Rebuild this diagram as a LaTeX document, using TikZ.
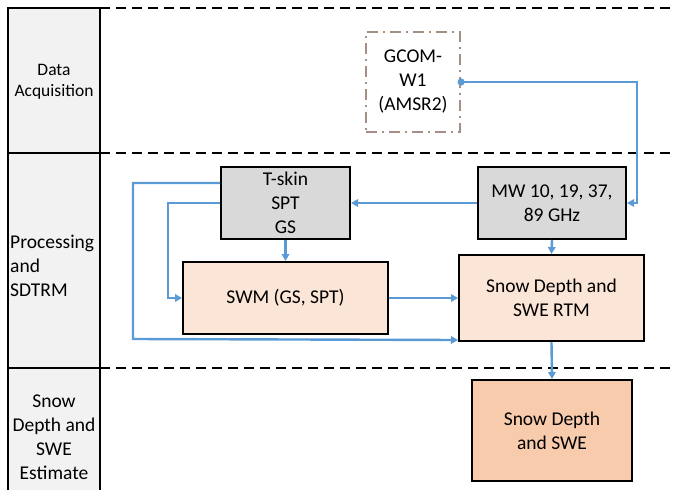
\documentclass[tikz,border=0pt]{standalone}
\usepackage{fontspec}
\setmainfont{Carlito}
\usetikzlibrary{arrows.meta}
\definecolor{lnblue}{HTML}{5B9BD5}
\definecolor{boxgray}{HTML}{D9D9D9}
\definecolor{peach}{HTML}{FBE5D6}
\definecolor{peachdark}{HTML}{F8CBAD}
\definecolor{colgray}{HTML}{F2F2F2}
\definecolor{gcomc}{HTML}{A38F86}
\begin{document}
\begin{tikzpicture}[x=1pt,y=-1pt,
  box/.style={draw=black,line width=2pt,inner sep=0pt,align=center,
    font=\fontsize{19.5}{24}\selectfont},
  graybox/.style={box,fill=boxgray},
  peachbox/.style={box,fill=peach},
  arr/.style={draw=lnblue,line width=2.4pt,-{Triangle[length=7pt,width=7.5pt]}},
  sep/.style={draw=black,line width=2pt,dash pattern=on 10pt off 6pt},
  lab/.style={align=center,inner sep=0pt,font=\fontsize{19.5}{24}\selectfont}]
\useasboundingbox (0,0) rectangle (673,490);
% left column
\fill[colgray] (8,8) rectangle (100,492);
\draw[line width=2pt] (8,492) -- (8,8) -- (100,8) -- (100,492);
\draw[line width=2pt] (8,153) -- (100,153);
\draw[line width=2pt] (8,368) -- (100,368);
% separators
\draw[sep] (100,8) -- (673,8);
\draw[sep] (100,153) -- (673,153);
\draw[sep] (100,368) -- (673,368);
% labels
\node[lab,font=\fontsize{17.5}{20.5}\selectfont] (l1) at (54,82) {Data\\Acquisition};
\node[lab,align=left,anchor=west] (l2) at (10,266) {Processing\\and\\SDTRM};
\node[lab] (l3) at (54,437) {Snow\\Depth and\\SWE\\Estimate};
% boxes
\node[box,draw=gcomc,line width=2.2pt,dash pattern=on 11pt off 5pt on 2pt off 5pt,
  minimum width=94pt,minimum height=100pt] (gcom) at (413,82) {GCOM-\\W1\\(AMSR2)};
\node[graybox,minimum width=129pt,minimum height=72pt] (tskin) at (285.5,203) {T-skin\\SPT\\GS};
\node[graybox,minimum width=148pt,minimum height=72pt] (mw) at (552,203) {MW 10, 19, 37,\\89 GHz};
\node[peachbox,minimum width=205pt,minimum height=72pt] (swm) at (285.5,298) {SWM (GS, SPT)};
\node[peachbox,minimum width=185pt,minimum height=86pt] (rtm) at (551.5,298) {Snow Depth and\\SWE RTM};
\node[box,fill=peachdark,minimum width=160pt,minimum height=101pt] (out) at (552,430.5) {Snow Depth\\and SWE};
% connectors
\draw[arr] (gcom.east) -| (637,203) -- (mw.east);
\fill[lnblue] (gcom.east) circle (3.6pt);
\draw[arr] (mw.west) -- (tskin.east);
\draw[arr] (tskin.south) -- (swm.north);
\draw[arr] (mw.south) -- (rtm.north);
\draw[arr] ([yshift=20pt]tskin.west) -| (133,339) -- ([yshift=2pt]rtm.south west);
\draw[arr] (tskin.west) -| (168,298) -- (swm.west);
\draw[arr] (swm.east) -- (rtm.west);
\draw[arr] (rtm.south) -- (out.north);
\end{tikzpicture}
\end{document}
